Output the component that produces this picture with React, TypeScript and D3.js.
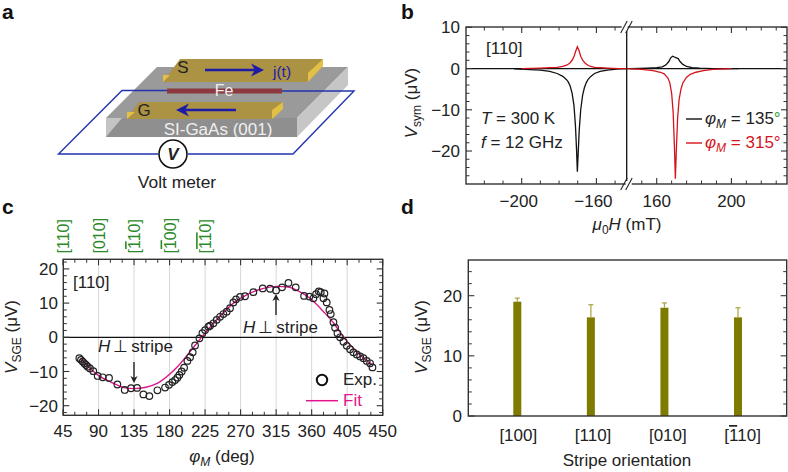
import React from "react";
import * as d3 from "d3";

// ---------- Panel b data
const bBlackLeftH = [-204,-190,-185,-181,-178,-176,-175,-174,-173,-172,-171.2,-170.6,-170.2,-169.8,-169.2,-168.4,-167.4,-166.4,-165.4,-164.4,-163,-161,-158,-154,-148,-144];
const bBlackLeftV = [-0.1,-0.4,-0.7,-1.2,-1.9,-2.7,-3.3,-4.3,-6,-9,-14,-20,-25,-21,-15,-10,-6.5,-4.6,-3.4,-2.6,-1.9,-1.2,-0.7,-0.4,-0.1,0];
const bRedLeftH = [-200,-190,-185,-181,-178,-176,-174.5,-173,-172,-171,-170.2,-169.4,-168.4,-167.2,-166,-164.5,-163,-161,-158,-154,-148,-144];
const bRedLeftV = [0,0.1,0.2,0.3,0.5,0.8,1.2,2,2.9,4.3,5.3,4.5,3,1.9,1.3,0.8,0.5,0.3,0.2,0.1,0,0];
const bBlackRightH = [146,155,160,163,165,166.5,167.5,168.5,169.5,170.5,171.5,172.5,174,176,179,183,190,204];
const bBlackRightV = [0,0.1,0.2,0.4,0.9,1.7,2.6,3,2.8,2.6,2.4,1.7,1,0.5,0.2,0.1,0,0];
const bRedRightH = [144,152,158,162,164,166,167,168,168.8,169.5,170,170.5,171.2,172,173,174,176,178,181,185,190,200];
const bRedRightV = [0,-0.2,-0.5,-0.9,-1.3,-2.3,-3.4,-6,-10.5,-19,-26.7,-20,-12,-7.5,-5,-3.5,-2.1,-1.4,-0.9,-0.5,-0.2,0];
const bYTicks = [10, 0, -10, -20];
const bYMinor = [8,6,4,2,-2,-4,-6,-8,-12,-14,-16,-18,-22,-24,-26];
const bLeftTicks = [-200, -160];
const bRightTicks = [160, 200];
const bLeftMinor = [-220,-210,-190,-180,-170,-150];
const bRightMinor = [152,168,176,184,192,208,216,224];

// ---------- Panel c data
const cExpPhi = [65.7,67.8,69.9,72,74.2,76.3,79.2,83.4,88.9,95.3,103.3,113.9,123.2,131.2,138.8,146.8,154.4,164.6,174.3,179.3,183.6,187,189.9,192.4,195.4,198.4,202.6,206,209.3,212.3,217.8,221.6,225,229.2,231.3,235.5,239.7,244,248.2,252.4,256.6,260.8,264.2,269.3,275.6,286.2,298,307.3,314.9,322.5,330.6,339.8,350.4,357.2,362.2,365.6,369,371.5,376.2,375,379.1,382.5,384.2,387.6,389.7,392.7,396,400.3,404.5,408.7,412.9,417.2,421.4,425.6,429.8,434,437];
const cExpV = [-6.1,-6.6,-7.1,-7.6,-8.1,-8.6,-9.1,-9.9,-11.3,-11.7,-11.9,-13.8,-15.4,-14.9,-14.8,-16.7,-17.2,-15.5,-14.7,-13.9,-13.1,-12.5,-11.8,-11,-10,-8.9,-6.9,-5.8,-4.4,-2.4,-0.3,1.2,2.1,3.1,3.4,4.1,5.1,6,6.8,7.5,8.5,10.2,11.1,11.8,12,13.2,14.3,14.2,13.7,14.6,15.9,14.6,12.1,11.9,11.4,12.6,13.4,13.2,12.8,11.4,10.2,8,6.8,4.4,2.8,1.2,0,-1.3,-2.5,-3.5,-4.4,-5,-5.6,-6.1,-6.9,-7.6,-8.8];
const cFitPhi = [67,79,90,105,122,135,150,165,180,190,206,223,240,261,282,299,316,330,341,358,375,388,400,417,437];
const cFitV = [-6.3,-9,-11.2,-13,-14.7,-15,-14.6,-13.4,-10.8,-8.6,-4.2,0.7,5.2,10,12.9,14.3,14.9,14.7,13.8,11.4,7.5,4.1,0.2,-4.2,-8.1];
const cXTicks = [45,90,135,180,225,270,315,360,405,450];
const cXMinor = [60,75,105,120,150,165,195,210,240,255,285,300,330,345,375,390,420,435];
const cGrid = [90,135,180,225,270,315,360,405];
const cYTicks = [20,10,0,-10,-20];
const cYMinor = [22,18,16,14,12,8,6,4,2,-2,-4,-6,-8,-12,-14,-16,-18,-22];
const cCrystal = [
  { at: 45, pre: "[110]", over: "", post: "" },
  { at: 90, pre: "[010]", over: "", post: "" },
  { at: 135, pre: "[", over: "1", post: "10]" },
  { at: 180, pre: "[", over: "1", post: "00]" },
  { at: 225, pre: "[", over: "11", post: "0]" },
];

// ---------- Panel d data
const dCats = ["[100]", "[110]", "[010]", "[110]"];
const dVals = [19, 16.4, 18, 16.4];
const dErrTop = [19.6, 18.5, 18.8, 18];
const dYTicks = [20, 10, 0];
const dYMinor = [24, 22, 18, 16, 14, 12, 8, 6, 4, 2];

const FONT = "'Liberation Sans', Arial, sans-serif";
const FS = 17;
const INK = "#222";
const BLUE = "#1c1ca8";
const WIRE = "#2233b0";

const by = d3.scaleLinear().domain([10, -28]).range([27.3, 184]);
const bxL = d3.scaleLinear().domain([-200, -160]).range([521.7, 596.4]);
const bxR = d3.scaleLinear().domain([160, 200]).range([656.7, 731.4]);
const cx = d3.scaleLinear().domain([45, 450]).range([63, 382.7]);
const cy = d3.scaleLinear().domain([20, -20]).range([268.9, 405.7]);
const dx = d3.scalePoint<number>().domain([0, 1, 2, 3]).range([517.3, 738]);
const dy = d3.scaleLinear().domain([0, 20]).range([416, 295.7]);

const BL = 466, BR = 787, BT = 27, BB = 184, BM = 626.7;
const CL = 63.3, CR = 382.7, CT = 259.3, CB = 415.3;
const DL = 468.3, DR = 786.7, DT = 260, DB = 416;

function path(xs: number[], ys: number[], x: any, y: any, curve: any = d3.curveLinear) {
  const g = d3.line<number>().x((_, i) => x(xs[i])).y((_, i) => y(ys[i])).curve(curve);
  return g(xs) as string;
}

const Arrow = ({ x1, y1, x2, y2, color = "#222", w = 1.4, head = 7, hw = 3.6 }: any) => {
  const a = Math.atan2(y2 - y1, x2 - x1);
  const bx = x2 - head * Math.cos(a), byy = y2 - head * Math.sin(a);
  const nx = -Math.sin(a) * hw, ny = Math.cos(a) * hw;
  const mx = x2 - head * 0.7 * Math.cos(a), my = y2 - head * 0.7 * Math.sin(a);
  return (
    <g>
      <line x1={x1} y1={y1} x2={mx} y2={my} stroke={color} strokeWidth={w} />
      <path d={`M${x2},${y2}L${bx + nx},${byy + ny}L${mx},${my}L${bx - nx},${byy - ny}Z`} fill={color} />
    </g>
  );
};

const T = ({ x, y, children, anchor = "start", size = FS, fill = INK, weight, style, transform }: any) => (
  <text x={x} y={y} textAnchor={anchor} fontSize={size} fill={fill} fontWeight={weight} style={style} transform={transform}>{children}</text>
);

function SchematicA() {
  return (
    <g>
      <polygon points="157,67 348,67 297,118 106,118" fill="#9a9a9a" />
      <polygon points="106,118 297,118 297,137 106,137" fill="#8f8f8f" />
      <polygon points="106,137 106,118 122,118" fill="#c4c4c4" />
      <polygon points="297,118 348,67 348,85 297,137" fill="#c6c6c6" />
      <polygon points="163,82 180,59 323,59 308,82" fill="#ac9344" />
      <polygon points="308,73 323,59 323,66 308,82" fill="#e2bf45" />
      <polygon points="163,82 163,75 170,75" fill="#e2bf45" />
      <polygon points="127,119 139,102 283,102 272,119" fill="#ac9344" />
      <polygon points="272,110 283,102 283,109 272,119" fill="#e2bf45" />
      <polygon points="127,119 127,112 135,112" fill="#e2bf45" />
      <polyline points="167,90.5 122,90.5 58.5,154 158,154" fill="none" stroke={WIRE} strokeWidth={1.4} />
      <polyline points="188,154 293,154 354,91 282,91" fill="none" stroke={WIRE} strokeWidth={1.4} />
      <rect x={167} y={88.5} width={115} height={5} fill="#8c3a3f" />
      <Arrow x1={205} y1={70} x2={264} y2={70} color={BLUE} w={2.4} head={13} hw={6.5} />
      <Arrow x1={236} y1={110} x2={176} y2={110} color={BLUE} w={2.4} head={13} hw={6.5} />
      <T x={183} y={73} anchor="middle" size={17}>S</T>
      <T x={144} y={116} anchor="middle" size={17}>G</T>
      <T x={273} y={77} size={15.5} fill={BLUE}>j(t)</T>
      <T x={224} y={96} anchor="middle" size={16} fill="#f0f0f0">Fe</T>
      <T x={218} y={134.5} anchor="middle" size={17} fill="#f0f0f0">SI-GaAs (001)</T>
      <circle cx={173} cy={154} r={14} fill="#fff" stroke="#111" strokeWidth={1.6} />
      <T x={173} y={160} anchor="middle" size={17} weight="bold" style={{ fontStyle: "italic" }}>V</T>
      <T x={177} y={188} anchor="middle" size={17.4}>Volt meter</T>
    </g>
  );
}

function PanelB() {
  const red = "#d4141c";
  return (
    <g>
      <line x1={BL} x2={BR} y1={by(0)} y2={by(0)} stroke="#111" strokeWidth={1.2} />
      <path d={path(bBlackLeftH, bBlackLeftV, bxL, by)} fill="none" stroke="#111" strokeWidth={1.3} />
      <path d={path(bBlackRightH, bBlackRightV, bxR, by)} fill="none" stroke="#111" strokeWidth={1.3} />
      <path d={path(bRedLeftH, bRedLeftV, bxL, by)} fill="none" stroke={red} strokeWidth={1.3} />
      <path d={path(bRedRightH, bRedRightV, bxR, by)} fill="none" stroke={red} strokeWidth={1.3} />
      <line x1={BM} x2={BM} y1={BT} y2={BB} stroke="#111" strokeWidth={1.3} />
      <rect x={BL} y={BT} width={BR - BL} height={BB - BT} fill="none" stroke="#333" strokeWidth={1.4} />
      {bYTicks.map(v => (
        <g key={v} stroke="#333" strokeWidth={1.1}>
          <line x1={BL} x2={BL + 6} y1={by(v)} y2={by(v)} />
          <line x1={BR} x2={BR - 6} y1={by(v)} y2={by(v)} />
        </g>
      ))}
      {bYMinor.map(v => (
        <g key={v} stroke="#333" strokeWidth={1}>
          <line x1={BL} x2={BL + 3.5} y1={by(v)} y2={by(v)} />
          <line x1={BR} x2={BR - 3.5} y1={by(v)} y2={by(v)} />
        </g>
      ))}
      {[...bLeftTicks.map(bxL), ...bRightTicks.map(bxR)].map(x => (
        <g key={x} stroke="#333" strokeWidth={1.1}>
          <line x1={x} x2={x} y1={BB} y2={BB - 6} />
          <line x1={x} x2={x} y1={BT} y2={BT + 6} />
        </g>
      ))}
      {[...bLeftMinor.map(bxL), ...bRightMinor.map(bxR)].map(x => (
        <g key={x} stroke="#333" strokeWidth={1}>
          <line x1={x} x2={x} y1={BB} y2={BB - 3.5} />
          <line x1={x} x2={x} y1={BT} y2={BT + 3.5} />
        </g>
      ))}
      <rect x={BM - 5} y={BT - 3} width={6} height={7} fill="#fff" />
      <rect x={BM - 1} y={BB - 3} width={6} height={7} fill="#fff" />
      {[BT, BB].map(y => (
        <g key={y} stroke="#222" strokeWidth={1.1}>
          <line x1={BM - 6} x2={BM + 0.5} y1={y + 6} y2={y - 6} />
          <line x1={BM - 1} x2={BM + 5.5} y1={y + 6} y2={y - 6} />
        </g>
      ))}
      {bYTicks.map(v => (
        <T key={v} x={460} y={by(v) + 6} anchor="end">{v < 0 ? `\u2212${-v}` : v}</T>
      ))}
      {bLeftTicks.map(v => <T key={v} x={bxL(v) - 3} y={207} anchor="middle">{`\u2212${-v}`}</T>)}
      {bRightTicks.map(v => <T key={v} x={bxR(v)} y={207} anchor="middle">{v}</T>)}
      <T x={486} y={54}>[110]</T>
      <T x={481} y={124}><tspan fontStyle="italic">T</tspan> = 300 K</T>
      <T x={481} y={148}><tspan fontStyle="italic">f</tspan> = 12 GHz</T>
      <line x1={686} x2={702} y1={119} y2={119} stroke="#111" strokeWidth={1.4} />
      <line x1={686} x2={702} y1={143} y2={143} stroke={red} strokeWidth={1.4} />
      <T x={705} y={124}><tspan fontStyle="italic">{"\u03C6"}</tspan><tspan fontStyle="italic" dy={4} fontSize={12}>M</tspan><tspan dy={-4}> = 135</tspan><tspan fill="#3a9a3a">°</tspan></T>
      <T x={705} y={148} fill={red}><tspan fontStyle="italic">{"\u03C6"}</tspan><tspan fontStyle="italic" dy={4} fontSize={12}>M</tspan><tspan dy={-4}> = 315°</tspan></T>
      <T x={627} y={230} anchor="middle"><tspan fontStyle="italic">{"\u03BC"}</tspan><tspan dy={4} fontSize={12}>0</tspan><tspan dy={-4} fontStyle="italic">H</tspan> (mT)</T>
      <T x={0} y={0} anchor="middle" transform="translate(417,103) rotate(-90)"><tspan fontStyle="italic">V</tspan><tspan dy={4} fontSize={12}>sym</tspan><tspan dy={-4}> ({"\u03BC"}V)</tspan></T>
    </g>
  );
}

const Perp = ({ x, y }: any) => (
  <T x={x} y={y}><tspan fontStyle="italic">H</tspan><tspan dx={3}>{"\u22A5"}</tspan><tspan dx={3}>stripe</tspan></T>
);

function PanelC() {
  const magenta = "#e0148c";
  return (
    <g>
      {cGrid.map(v => <line key={v} x1={cx(v)} x2={cx(v)} y1={CT} y2={CB} stroke="#d8d8d8" strokeWidth={1} />)}
      <line x1={CL} x2={CR} y1={cy(0)} y2={cy(0)} stroke="#111" strokeWidth={1.2} />
      <path d={path(cFitPhi, cFitV, cx, cy, d3.curveMonotoneX)} fill="none" stroke={magenta} strokeWidth={1.4} />
      {cExpPhi.map((p, i) => (
        <circle key={i} cx={cx(p)} cy={cy(cExpV[i])} r={3.3} fill="none" stroke="#222" strokeWidth={1.2} />
      ))}
      <rect x={CL} y={CT} width={CR - CL} height={CB - CT} fill="none" stroke="#333" strokeWidth={1.4} />
      {cXTicks.map(v => (
        <g key={v} stroke="#333" strokeWidth={1.1}>
          <line x1={cx(v)} x2={cx(v)} y1={CB} y2={CB - 6} />
          <line x1={cx(v)} x2={cx(v)} y1={CT} y2={CT + 6} />
        </g>
      ))}
      {cXMinor.map(v => (
        <g key={v} stroke="#333" strokeWidth={1}>
          <line x1={cx(v)} x2={cx(v)} y1={CB} y2={CB - 3.5} />
          <line x1={cx(v)} x2={cx(v)} y1={CT} y2={CT + 3.5} />
        </g>
      ))}
      {cYTicks.map(v => (
        <g key={v} stroke="#333" strokeWidth={1.1}>
          <line x1={CL} x2={CL + 6} y1={cy(v)} y2={cy(v)} />
          <line x1={CR} x2={CR - 6} y1={cy(v)} y2={cy(v)} />
        </g>
      ))}
      {cYMinor.map(v => (
        <g key={v} stroke="#333" strokeWidth={1}>
          <line x1={CL} x2={CL + 3.5} y1={cy(v)} y2={cy(v)} />
          <line x1={CR} x2={CR - 3.5} y1={cy(v)} y2={cy(v)} />
        </g>
      ))}
      {cXTicks.map(v => <T key={v} x={cx(v)} y={437} anchor="middle">{v}</T>)}
      {cYTicks.map(v => <T key={v} x={58} y={cy(v) + 6} anchor="end">{v < 0 ? `\u2212${-v}` : v}</T>)}
      {cCrystal.map(c => (
        <T key={c.at} x={0} y={0} size={16} fill="#2a8a2a" transform={`translate(${cx(c.at) + 6},253.5) rotate(-90)`}>
          {c.pre}{c.over ? <tspan style={{ textDecoration: "overline" }}>{c.over}</tspan> : null}{c.post}
        </T>
      ))}
      <T x={73} y={288}>[110]</T>
      <Perp x={98} y={352} />
      <Perp x={243} y={333} />
      <Arrow x1={134} y1={362} x2={134} y2={383} />
      <Arrow x1={276} y1={315} x2={276} y2={294} />
      <circle cx={322} cy={380} r={5.2} fill="none" stroke="#111" strokeWidth={2} />
      <T x={343} y={385}>Exp.</T>
      <line x1={306} x2={338} y1={400.7} y2={400.7} stroke={magenta} strokeWidth={1.5} />
      <T x={343} y={406} fill={magenta}>Fit</T>
      <T x={222} y={462} anchor="middle"><tspan fontStyle="italic">{"\u03C6"}</tspan><tspan fontStyle="italic" dy={4} fontSize={12}>M</tspan><tspan dy={-4}> (deg)</tspan></T>
      <T x={0} y={0} anchor="middle" transform="translate(17,337) rotate(-90)"><tspan fontStyle="italic">V</tspan><tspan dy={4} fontSize={12}>SGE</tspan><tspan dy={-4}> ({"\u03BC"}V)</tspan></T>
    </g>
  );
}

function PanelD() {
  const olive = "#7f7b00";
  const errC = "#a8a33c";
  return (
    <g>
      {dVals.map((v, i) => {
        const x = dx(i) as number;
        return (
          <g key={i}>
            <rect x={x - 4} y={dy(v)} width={8} height={dy(0) - dy(v)} fill={olive} />
            <line x1={x} x2={x} y1={dy(v)} y2={dy(dErrTop[i])} stroke={errC} strokeWidth={1.2} />
            <line x1={x - 2.5} x2={x + 2.5} y1={dy(dErrTop[i])} y2={dy(dErrTop[i])} stroke={errC} strokeWidth={1.2} />
          </g>
        );
      })}
      <rect x={DL} y={DT} width={DR - DL} height={DB - DT} fill="none" stroke="#333" strokeWidth={1.4} />
      {dYTicks.map(v => (
        <g key={v} stroke="#333" strokeWidth={1.1}>
          <line x1={DL} x2={DL + 6} y1={dy(v)} y2={dy(v)} />
          <line x1={DR} x2={DR - 6} y1={dy(v)} y2={dy(v)} />
        </g>
      ))}
      {dYMinor.map(v => (
        <g key={v} stroke="#333" strokeWidth={1}>
          <line x1={DL} x2={DL + 3.5} y1={dy(v)} y2={dy(v)} />
          <line x1={DR} x2={DR - 3.5} y1={dy(v)} y2={dy(v)} />
        </g>
      ))}
      {dYTicks.map(v => <T key={v} x={462} y={dy(v) + 6} anchor="end">{v}</T>)}
      {dCats.map((c, i) => (
        <T key={i} x={(dx(i) as number) + 1 + i * 1.2} y={441} anchor="middle">
          {i === 3 ? <>[<tspan style={{ textDecoration: "overline" }}>1</tspan>10]</> : c}
        </T>
      ))}
      <T x={627} y={466} anchor="middle">Stripe orientation</T>
      <T x={0} y={0} anchor="middle" transform="translate(427,337) rotate(-90)"><tspan fontStyle="italic">V</tspan><tspan dy={4} fontSize={12}>SGE</tspan><tspan dy={-4}> ({"\u03BC"}V)</tspan></T>
    </g>
  );
}

export default function App() {
  return (
    <svg width={788} height={472} style={{ position: "fixed", left: 0, top: 0, display: "block", background: "#fff" }} fontFamily={FONT}>
      <SchematicA />
      <PanelB />
      <PanelC />
      <PanelD />
      <T x={2} y={19} size={21} weight="bold" fill="#111">a</T>
      <T x={401} y={19} size={21} weight="bold" fill="#111">b</T>
      <T x={2} y={214} size={21} weight="bold" fill="#111">c</T>
      <T x={401} y={214} size={21} weight="bold" fill="#111">d</T>
    </svg>
  );
}
